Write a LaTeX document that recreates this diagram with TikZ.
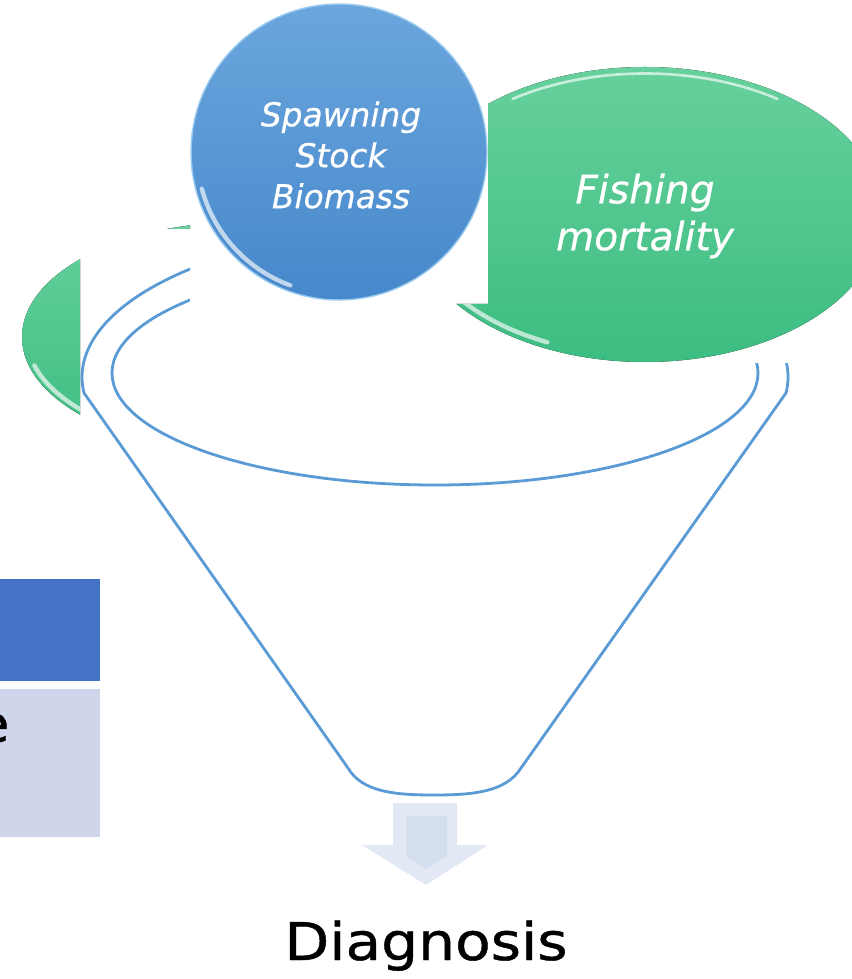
\documentclass[tikz,border=0pt]{standalone}
\usepackage{fontspec}
\setmainfont{DejaVu Sans}
\definecolor{ssbtop}{HTML}{6BA6DD}
\definecolor{ssbbot}{HTML}{4688CB}
\definecolor{ssbedge}{HTML}{9CCBF0}
\definecolor{fmtop}{HTML}{67D09C}
\definecolor{fmbot}{HTML}{3CBD81}
\definecolor{funnelblue}{HTML}{5B9BD5}
\definecolor{boxblue}{HTML}{4472C4}
\definecolor{boxlight}{HTML}{CFD5EA}
\definecolor{arrowface}{HTML}{D3DEEF}
\definecolor{arrowedge}{HTML}{E2E9F5}
\tikzset{
  funnel line/.style={line width=1.6pt, funnelblue},
  glint/.style={white, line width=2.5pt, opacity=0.65, line cap=round},
  label white/.style={text=white, align=center, inner sep=0pt},
}

\begin{document}
\begin{tikzpicture}[x=0.02cm, y=0.02cm]
  \useasboundingbox (0,0) rectangle (851,-979);
  \begin{scope}
    \clip (0,0) -- (190,0) -- (190,-229) -- (80,-229) -- (80,-979) -- (0,-979) -- cycle;
    \fill[top color=fmtop, bottom color=fmbot] (243,-337) ellipse [x radius=221, y radius=115];
    \draw[glint] (243,-337) ++(195:216 and 110) arc[start angle=195, end angle=225, x radius=216, y radius=110];
  \end{scope}
  \begin{scope}
    \clip (0,0) -- (190,0) -- (190,-304) -- (488,-304) -- (488,-363) -- (900,-363) -- (900,-979) -- (0,-979) -- cycle;
    \draw[funnel line] (786,-393) arc[start angle=-6.1, end angle=186.1, x radius=353, y radius=150]
      -- (348,-768) .. controls (362,-792) and (395,-795) .. (434,-795)
      .. controls (473,-795) and (506,-792) .. (521,-768) -- cycle;
    \draw[funnel line] (435,-373) ellipse [x radius=323, y radius=112];
  \end{scope}
  \begin{scope}
    \clip (488,0) -- (900,0) -- (900,-500) -- (400,-500) -- (400,-304) -- (488,-304) -- cycle;
    \fill[top color=fmtop, bottom color=fmbot] (645,-214.5) ellipse [x radius=237, y radius=147.5];
    \draw[glint, line width=1.5pt] (645,-214.5) ++(55:231 and 141) arc[start angle=55, end angle=125, x radius=231, y radius=141];
    \draw[glint] (645,-214.5) ++(212:231 and 141) arc[start angle=212, end angle=245, x radius=231, y radius=141];
  \end{scope}
  \node[label white, font=\itshape\fontsize{22.3}{26.7}\selectfont\addfontfeatures{FakeBold=0.6}] (fm) at (645,-216) {Fishing\\mortality};
  \node[circle, minimum size=5.92cm, top color=ssbtop, bottom color=ssbbot, draw=ssbedge, line width=0.8pt] (ssb) at (339,-152) {};
  \draw[glint] (339,-152) ++(195:142) arc[start angle=195, end angle=250, radius=142];
  \node[label white, font=\itshape\fontsize{18.7}{23.3}\selectfont\addfontfeatures{FakeBold=0.6}] (ssbtext) at (341,-155) {Spawning\\Stock\\Biomass};
  \fill[boxblue] (0,-579) rectangle (100,-681);
  \fill[boxlight] (0,-689) rectangle (100,-837);
  \node[anchor=base east, inner sep=0pt, font=\fontsize{29.6}{34}\selectfont\addfontfeatures{FakeStretch=1.12, FakeBold=0.8}] (cut) at (10,-742) {e};
  \fill[arrowedge] (393,-803) -- (457,-803) -- (457,-845) -- (488,-845) -- (426,-885) -- (362,-845) -- (393,-845) -- cycle;
  \fill[arrowface] (406,-816) -- (447,-816) -- (447,-856) -- (426,-869) -- (406,-856) -- cycle;
  \node[anchor=base, inner sep=0pt, font=\fontsize{29.6}{34}\selectfont\addfontfeatures{FakeStretch=1.12, FakeBold=0.8}] (dx) at (426,-960) {Diagnosis};
\end{tikzpicture}
\end{document}
